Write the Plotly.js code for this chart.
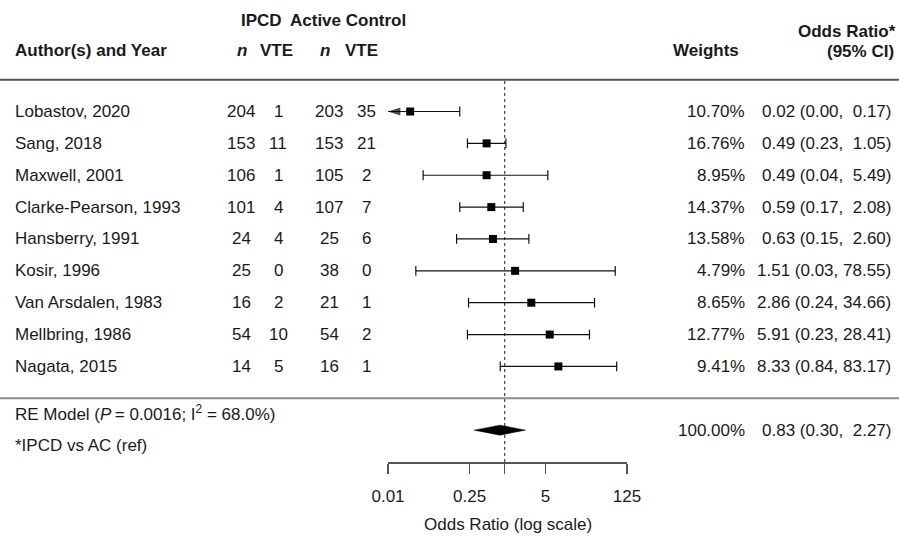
<!DOCTYPE html>
<html><head><meta charset="utf-8">
<script src="https://cdn.plot.ly/plotly-3.0.1.min.js"></script>
<style>html,body{margin:0;padding:0;background:#fff}#chart{width:899px;height:537px}</style>
</head><body><div id="chart"></div>
<script>
// ---- data ----
const studies = ["Lobastov, 2020","Sang, 2018","Maxwell, 2001","Clarke-Pearson, 1993","Hansberry, 1991","Kosir, 1996","Van Arsdalen, 1983","Mellbring, 1986","Nagata, 2015"];
const ipcdN   = [204,153,106,101,24,25,16,54,14];
const ipcdVTE = [1,11,1,4,4,0,2,10,5];
const acN     = [203,153,105,107,25,38,21,54,16];
const acVTE   = [35,21,2,7,6,0,1,2,1];
const weights = [10.70,16.76,8.95,14.37,13.58,4.79,8.65,12.77,9.41];
const oddsRatio = [0.024,0.49,0.49,0.59,0.63,1.51,2.86,5.91,8.33];
const ciLower   = [0.001,0.23,0.04,0.17,0.15,0.03,0.24,0.23,0.84];
const ciUpper   = [0.17,1.05,5.49,2.08,2.60,78.55,34.66,28.41,83.17];
const summaryOR = 0.83, summaryLower = 0.30, summaryUpper = 2.27, summaryWeight = 100.00;
const summaryLabel = "RE Model (<i>P</i>\u2009= 0.0016; I<sup>2</sup> = 68.0%)";
const footnote = "*IPCD vs AC (ref)";
const tickValues = [0.01,0.25,1,5,125];
const tickLabels = ["0.01","0.25","","5","125"];
const nullEffect = 1;

// ---- layout helpers ----
const W = 899, H = 537;
const M = {l:388, r:272, t:0, b:75};
const plotW = W - M.l - M.r, plotH = H - M.t - M.b;
const yRange = [-2, 12.5];
const axisMin = tickValues[0], axisMax = tickValues[tickValues.length-1];
const px2paperX = px => (px - M.l) / plotW;
const px2y = py => yRange[1] - (py - M.t) * (yRange[1]-yRange[0]) / plotH;
const y2paper = v => (v - yRange[0]) / (yRange[1]-yRange[0]);
const FONT = "Liberation Sans, Arial, Helvetica, sans-serif";
const TXT = "#1a1a1a";
const FS = 17;
const fmt = v => v.toFixed(2);
const pad = (s, n) => "\u00A0".repeat(Math.max(0, n - s.length)) + s;
const ciText = (e, lo, hi) => fmt(e) + "\u00A0(" + fmt(lo) + ",\u00A0" + pad(fmt(hi), 5) + ")";

const k = studies.length;
const rows = studies.map((_, i) => k - i);
const summaryRow = -1;

const annotations = [];
function ann(text, px, y, anchor, extra) {
  annotations.push(Object.assign({
    text: text, xref: "paper", yref: "y", x: px2paperX(px), y: y,
    xanchor: anchor, yanchor: "middle", showarrow: false,
    font: {family: FONT, size: FS, color: TXT}
  }, extra || {}));
}
const bold = {font: {family: FONT, size: FS, color: TXT, weight: "bold"}};

// headers
ann("IPCD", 261, px2y(20), "center", bold);
ann("Active Control", 348, px2y(20), "center", bold);
ann("Author(s) and Year", 13, px2y(50), "left", bold);
ann("<i>n</i>", 242, px2y(50), "center", bold);
ann("VTE", 276, px2y(50), "center", bold);
ann("<i>n</i>", 325, px2y(50), "center", bold);
ann("VTE", 361, px2y(50), "center", bold);
ann("Weights", 706, px2y(50), "center", bold);
ann("Odds Ratio*", 898, px2y(31), "right", bold);
ann("(95% CI)", 896, px2y(51), "right", bold);

// study rows
studies.forEach((s, i) => {
  const y = rows[i];
  ann(s, 13, y, "left");
  ann(String(ipcdN[i]), 241, y, "center");
  ann(String(ipcdVTE[i]), 278, y, "center");
  ann(String(acN[i]), 329, y, "center");
  ann(String(acVTE[i]), 366, y, "center");
  ann(fmt(weights[i]) + "%", 747, y, "right");
  ann(ciText(oddsRatio[i], ciLower[i], ciUpper[i]), 893, y, "right");
});

// summary rows
ann(summaryLabel, 13, px2y(413), "left");
ann(footnote, 13, px2y(445), "left");
ann(fmt(summaryWeight) + "%", 747, summaryRow, "right");
ann(ciText(summaryOR, summaryLower, summaryUpper), 893, summaryRow, "right");

// x-axis title
annotations.push({text: "Odds Ratio (log scale)", xref: "paper", yref: "paper",
  x: 0.5, y: -(524 - (M.t + plotH)) / plotH, xanchor: "center", yanchor: "middle",
  showarrow: false, font: {family: FONT, size: FS, color: TXT}});

// ---- traces ----
const ciX = [], ciY = [];
studies.forEach((_, i) => {
  ciX.push(Math.max(ciLower[i], axisMin), ciUpper[i], null);
  ciY.push(rows[i], rows[i], null);
});
const capX = [], capY = [];
studies.forEach((_, i) => {
  capX.push(ciUpper[i]); capY.push(rows[i]);
  if (ciLower[i] >= axisMin) { capX.push(ciLower[i]); capY.push(rows[i]); }
});
// arrows for CIs running past the axis limit: [estimate -> axis limit], arrow on last point
const arrowTraces = [];
studies.forEach((_, i) => {
  if (ciLower[i] < axisMin) {
    arrowTraces.push({type: "scatter", mode: "markers", x: [oddsRatio[i], axisMin], y: [rows[i], rows[i]],
      marker: {symbol: ["circle", "arrow"], size: [0, 13], angleref: "previous",
               color: "#000", line: {width: 0}},
      hoverinfo: "skip", cliponaxis: false});
  }
});
const dH = 5 * (yRange[1]-yRange[0]) / plotH;

const traces = [
  {type: "scatter", mode: "lines", x: [nullEffect, nullEffect], y: [yRange[0], 10],
   line: {color: "#444", width: 1.2, dash: "dot"}, hoverinfo: "skip", cliponaxis: false},
  {type: "scatter", mode: "lines", x: ciX, y: ciY, line: {color: "#111", width: 1.2},
   hoverinfo: "skip", cliponaxis: false},
  {type: "scatter", mode: "markers", x: capX, y: capY,
   marker: {symbol: "line-ns-open", size: 7, color: "#111", line: {color: "#111", width: 1.2}},
   hoverinfo: "skip", cliponaxis: false},
  ...arrowTraces,
  {type: "scatter", mode: "markers", x: oddsRatio, y: rows,
   marker: {symbol: "square", size: 8, color: "#000"}, cliponaxis: false},
  {type: "scatter", mode: "lines", fill: "toself", fillcolor: "#000",
   x: [summaryLower, summaryOR, summaryUpper, summaryOR, summaryLower],
   y: [summaryRow, summaryRow + dH, summaryRow, summaryRow - dH, summaryRow],
   line: {color: "#000", width: 0.5}, hoverinfo: "skip", cliponaxis: false}
];

const shapes = [
  {type: "line", xref: "paper", yref: "paper", x0: px2paperX(0), x1: px2paperX(W),
   y0: y2paper(10), y1: y2paper(10), line: {color: "#555", width: 2}},
  {type: "line", xref: "paper", yref: "paper", x0: px2paperX(0), x1: px2paperX(W),
   y0: y2paper(0), y1: y2paper(0), line: {color: "#8c8c8c", width: 2}}
];

const layout = {
  width: W, height: H, margin: M, paper_bgcolor: "#fff", plot_bgcolor: "#fff",
  showlegend: false, font: {family: FONT, size: FS, color: TXT},
  xaxis: {type: "log", range: [Math.log10(axisMin), Math.log10(axisMax)],
    showline: true, linecolor: "#555", linewidth: 1.5, ticks: "outside", ticklen: 10,
    tickwidth: 1.5, tickcolor: "#555", tickmode: "array", tickvals: tickValues, ticktext: tickLabels,
    tickfont: {family: FONT, size: FS, color: TXT}, ticklabelstandoff: 8,
    showgrid: false, zeroline: false, automargin: false, fixedrange: true},
  yaxis: {visible: false, range: yRange, fixedrange: true, automargin: false},
  annotations: annotations, shapes: shapes
};
Plotly.newPlot("chart", traces, layout, {displayModeBar: false, staticPlot: true});
</script>
</body></html>
